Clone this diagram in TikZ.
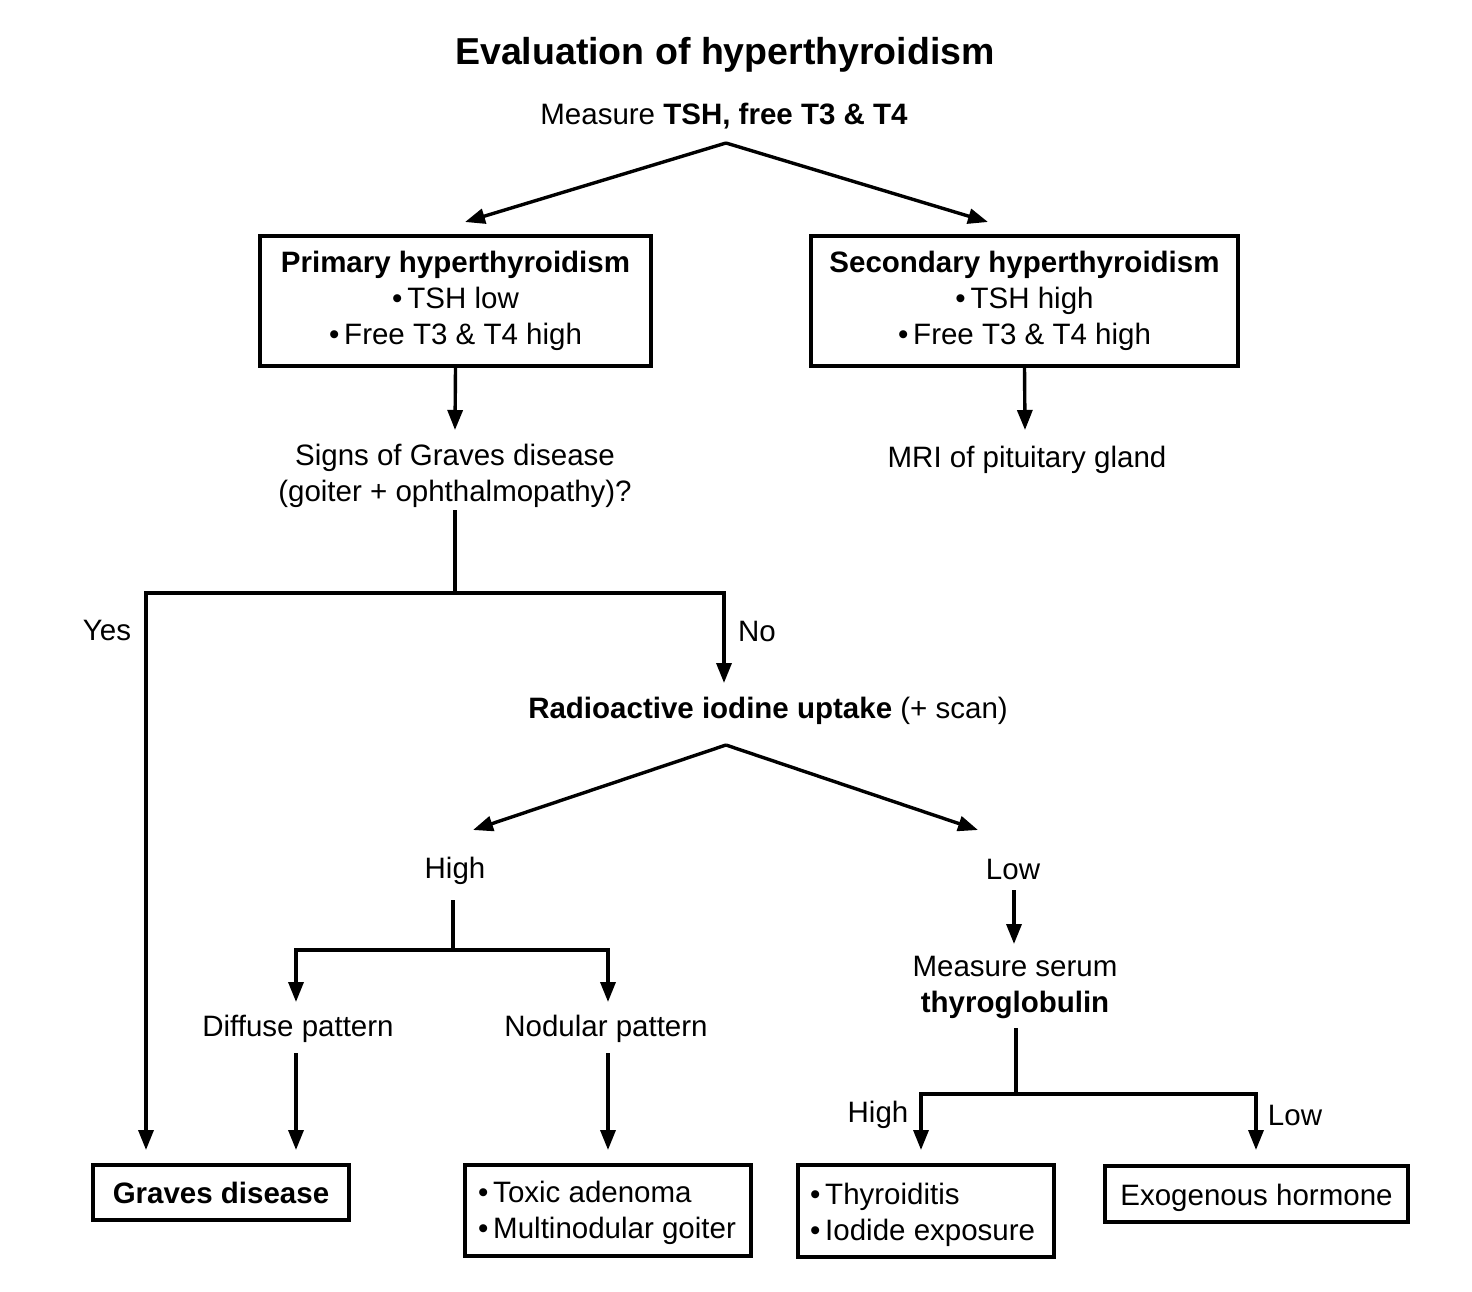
\documentclass[tikz,border=0pt]{standalone}
\usepackage{fontspec}
\setmainfont{Liberation Sans}
\usetikzlibrary{arrows.meta}
\newcommand{\lowerby}[2]{\raisebox{-#1}[\height][\depth]{#2}}
\begin{document}
\begin{tikzpicture}[x=1pt,y=-1pt,
  every node/.style={font=\fontsize{29.5}{36}\selectfont, inner sep=0pt, align=center},
  lbl/.style={yshift=-3pt},
  box/.style={draw, line width=3.2pt, rectangle},
  ln/.style={line width=3.4pt},
  arr/.style={line width=3.4pt, -{Triangle[length=20pt,width=15pt]}}]
\fill[white] (0,0) rectangle (1472,1291);
\useasboundingbox (0,0) rectangle (1472,1291);

\node[lbl, font=\fontsize{37.5}{45}\selectfont\bfseries] (title) at (725,52) {Evaluation of hyperthyroidism};
\node[lbl] (measure) at (724,113) {Measure \textbf{TSH, free T3 \& T4}};
\coordinate (apex1) at (726,143);
\coordinate (pe) at (465,222);
\coordinate (se) at (988,222);
\draw[arr] (apex1) -- (pe);
\draw[arr] (apex1) -- (se);

\node[box, minimum width=391pt, minimum height=130pt] (prim) at (455.5,301)
  {\textbf{Primary hyperthyroidism}\\\textbullet\,TSH low\\\textbullet\,Free T3 \& T4 high};
\node[box, minimum width=427pt, minimum height=130pt] (sec) at (1024.5,301)
  {\textbf{Secondary hyperthyroidism}\\\textbullet\,TSH high\\\textbullet\,Free T3 \& T4 high};

\node[lbl] (signs) at (455,473) {Signs of Graves disease\\(goiter + ophthalmopathy)?};
\node[lbl] (mri) at (1027,457) {MRI of pituitary gland};
\coordinate (signsin) at (455,430);
\coordinate (mriin) at (1025,430);
\draw[arr] (prim.south) -- (signsin);
\draw[arr] (sec.south) -- (mriin);

\coordinate (signsout) at (455,510);
\coordinate (split1) at (455,593);
\coordinate (yesc) at (146,593);
\coordinate (noc) at (724,593);
\coordinate (gravesin) at (146,1150);
\coordinate (raiin) at (724,683);
\draw[ln] (signsout) -- (split1);
\draw[arr] (split1) -- (yesc) -- (gravesin);
\draw[arr] (split1) -- (noc) -- (raiin);
\node[lbl] (yes) at (107,627) {Yes};
\node[lbl] (no) at (757,628) {No};

\node[lbl] (rai) at (768,708) {\textbf{Radioactive iodine uptake} (+ scan)};
\coordinate (apex2) at (726,745);
\coordinate (he) at (473,830);
\coordinate (le) at (978,830);
\draw[arr] (apex2) -- (he);
\draw[arr] (apex2) -- (le);
\node[lbl] (high) at (455,868) {High};
\node[lbl] (low) at (1013,866) {Low};

\coordinate (highout) at (453,900);
\coordinate (split2) at (453,950);
\coordinate (dc) at (296,950);
\coordinate (nc) at (608,950);
\coordinate (din) at (296,1002);
\coordinate (nin) at (608,1002);
\draw[ln] (highout) -- (split2);
\draw[arr] (split2) -- (dc) -- (din);
\draw[arr] (split2) -- (nc) -- (nin);
\node[lbl] (diffuse) at (298,1026) {Diffuse pattern};
\node[lbl] (nodular) at (606,1026) {Nodular pattern};
\coordinate (dout) at (296,1053);
\coordinate (nout) at (608,1053);
\coordinate (dend) at (296,1150);
\coordinate (nend) at (608,1150);
\draw[arr] (dout) -- (dend);
\draw[arr] (nout) -- (nend);

\coordinate (lowout) at (1014,890);
\coordinate (tgin) at (1014,944);
\draw[arr] (lowout) -- (tgin);
\node[lbl] (tg) at (1015,984) {Measure serum\\\textbf{thyroglobulin}};
\coordinate (tgout) at (1016,1028);
\coordinate (split3) at (1016,1094);
\coordinate (hc) at (921,1094);
\coordinate (lc) at (1256,1094);
\coordinate (hend) at (921,1150);
\coordinate (lend) at (1256,1150);
\draw[ln] (tgout) -- (split3);
\draw[arr] (split3) -- (hc) -- (hend);
\draw[arr] (split3) -- (lc) -- (lend);
\node[lbl] (high2) at (878,1112) {High};
\node[lbl] (low2) at (1295,1112) {Low};

\node[box, minimum width=256pt, minimum height=55pt] (graves) at (221,1192.5) {\textbf{Graves disease}};
\node[box, minimum width=286pt, minimum height=91pt] (toxic) at (608,1210.5)
  {\lowerby{2pt}{\parbox[c]{260pt}{\raggedright\textbullet\,Toxic adenoma\\\textbullet\,Multinodular goiter}}};
\node[box, minimum width=256pt, minimum height=92pt] (thyr) at (926,1211)
  {\lowerby{4pt}{\parbox[c]{232pt}{\raggedright\textbullet\,Thyroiditis\\\textbullet\,Iodide exposure}}};
\node[box, minimum width=303pt, minimum height=56pt] (exo) at (1256.5,1194) {\lowerby{4pt}{Exogenous hormone}};
\end{tikzpicture}
\end{document}
